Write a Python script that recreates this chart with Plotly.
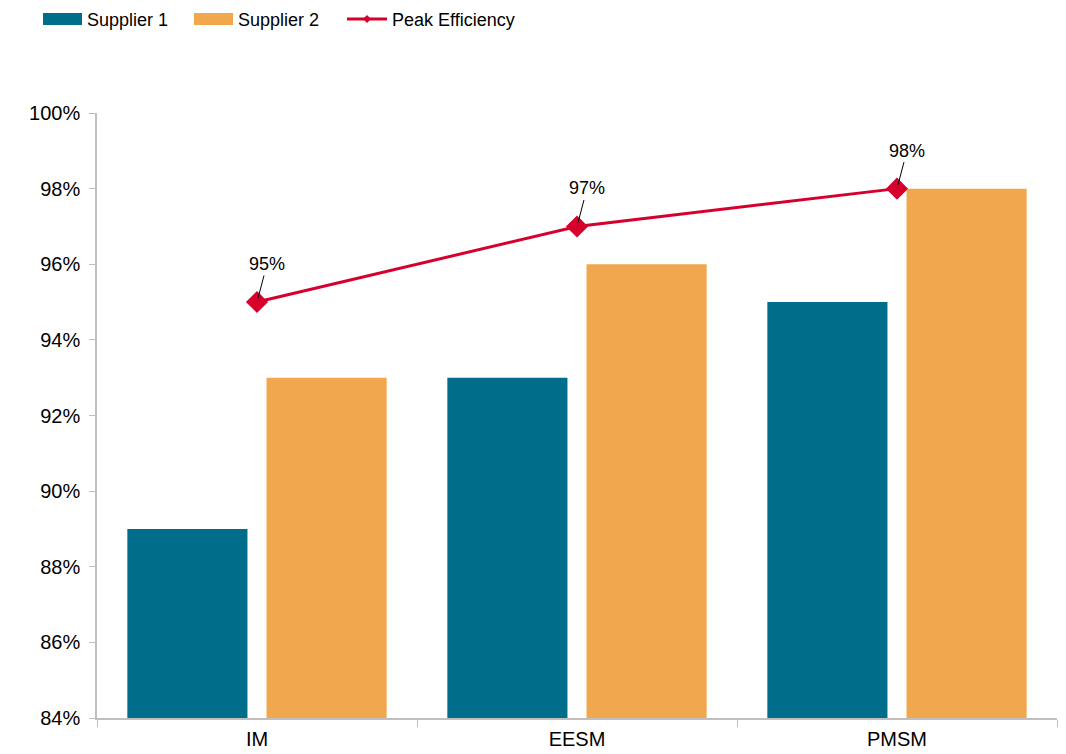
import plotly.graph_objects as go

categories = ["IM", "EESM", "PMSM"]
supplier1 = [89, 93, 95]
supplier2 = [93, 96, 98]
peak = [95, 97, 98]
peak_labels = ["95%", "97%", "98%"]
series_names = ["Supplier 1", "Supplier 2", "Peak Efficiency"]
y_ticks = [84, 86, 88, 90, 92, 94, 96, 98, 100]

TEAL = "#006E8A"
ORANGE = "#F0A74D"
RED = "#D6002D"
FONT = "Liberation Sans, Arial"

W, H = 1066, 754
ML, MR, MT, MB = 97, 9, 113, 36
PW, PH = W - ML - MR, H - MT - MB


def px(x):
    return (x - ML) / PW


def py(y):
    return (H - MB - y) / PH


fig = go.Figure()
fig.add_trace(go.Bar(name=series_names[0], x=categories, y=[v - 84 for v in supplier1], base=84,
                     marker=dict(color=TEAL, line=dict(width=0)), showlegend=False))
fig.add_trace(go.Bar(name=series_names[1], x=categories, y=[v - 84 for v in supplier2], base=84,
                     marker=dict(color=ORANGE, line=dict(width=0)), showlegend=False))
fig.add_trace(go.Scatter(name=series_names[2], x=categories, y=peak, mode="lines+markers",
                         line=dict(color=RED, width=3),
                         marker=dict(symbol="diamond", size=17, color=RED), showlegend=False))

for c, v, t in zip(categories, peak, peak_labels):
    fig.add_annotation(x=c, y=v, text=t, showarrow=True, arrowhead=0, arrowwidth=1,
                       arrowcolor="black", ax=10, ay=-38, standoff=4,
                       font=dict(size=18, color="black", family=FONT))

# custom legend (wide swatches like the reference)
legend_y = 19
swatches = [(43, 82, TEAL, "rect"), (194, 233, ORANGE, "rect"), (347, 387, RED, "line")]
for (x0, x1, col, kind), name in zip(swatches, series_names):
    if kind == "rect":
        fig.add_shape(type="rect", xref="paper", yref="paper",
                      x0=px(x0), x1=px(x1), y0=py(legend_y + 6), y1=py(legend_y - 6),
                      fillcolor=col, line=dict(width=0))
    else:
        fig.add_shape(type="line", xref="paper", yref="paper",
                      x0=px(x0), x1=px(x1), y0=py(legend_y), y1=py(legend_y),
                      line=dict(color=col, width=3))
        xm = (x0 + x1) / 2
        fig.add_shape(type="path", xref="paper", yref="paper",
                      path=f"M {px(xm-4)} {py(legend_y)} L {px(xm)} {py(legend_y-4)} "
                           f"L {px(xm+4)} {py(legend_y)} L {px(xm)} {py(legend_y+4)} Z",
                      fillcolor=col, line=dict(width=0))
    fig.add_annotation(xref="paper", yref="paper", x=px(x1 + 3), y=py(legend_y + 1),
                       text=name, showarrow=False, xanchor="left", yanchor="middle",
                       font=dict(size=18, color="black", family=FONT))

fig.update_layout(
    width=W, height=H,
    margin=dict(l=ML, r=MR, t=MT, b=MB, autoexpand=False),
    plot_bgcolor="white", paper_bgcolor="white",
    barmode="group", bargap=0.13, bargroupgap=0.137,
    font=dict(family=FONT, size=21, color="black"),
    showlegend=False,
)
fig.update_xaxes(showline=True, linecolor="#BFBFBF", linewidth=1.5, automargin=False,
                 ticks="outside", tickson="boundaries", ticklen=7, tickcolor="#BFBFBF",
                 tickfont=dict(size=20), ticklabelstandoff=2)
fig.update_yaxes(range=[84, 100], tickvals=y_ticks, ticktext=[f"{v}%" for v in y_ticks],
                 showgrid=False, showline=True, linecolor="#BFBFBF", linewidth=1.5,
                 automargin=False,
                 ticks="outside", ticklen=6, tickcolor="#BFBFBF", zeroline=False,
                 tickfont=dict(size=20), ticklabelstandoff=5)

fig.write_html("out.html")
